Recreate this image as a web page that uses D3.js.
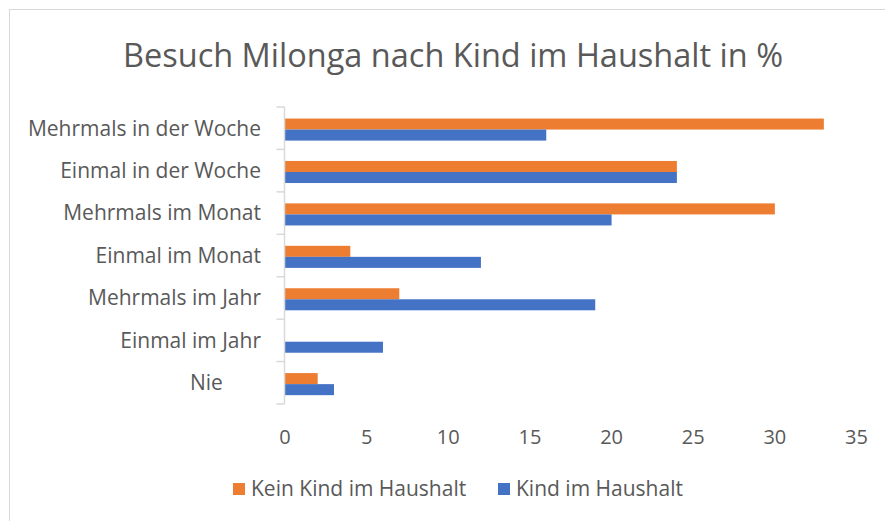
<!DOCTYPE html>
<html>
<head>
<meta charset="utf-8">
<script src="https://cdn.jsdelivr.net/npm/d3@7"></script>
<style>
  body { margin: 0; background: #fff; }
  text { font-family: "Open Sans", sans-serif; fill: #595959; white-space: pre; }
</style>
</head>
<body>
<svg id="chart" width="885" height="521"></svg>
<script>
// categories, top to bottom (the "Nie" label carries trailing spaces in the source)
var categories = ["Mehrmals in der Woche", "Einmal in der Woche", "Mehrmals im Monat",
    "Einmal im Monat", "Mehrmals im Jahr", "Einmal im Jahr", "Nie       "];
var seriesNames = ["Kein Kind im Haushalt", "Kind im Haushalt"];
var keinKind = [33, 24, 30, 4, 7, 0, 2];
var mitKind = [16, 24, 20, 12, 19, 6, 3];
var xTicks = [0, 5, 10, 15, 20, 25, 30, 35];
var colors = ["#ED7D31", "#4472C4"];

var svg = d3.select("#chart");

// chart frame
svg.append("rect")
    .attr("x", 9.5).attr("y", 9.5)
    .attr("width", 900).attr("height", 540)
    .attr("fill", "none")
    .attr("stroke", "#d9d9d9");

svg.append("text")
    .attr("x", 453).attr("y", 67)
    .attr("text-anchor", "middle")
    .style("font-size", "32.5px")
    .text("Besuch Milonga nach Kind im Haushalt in %");

var xScale = d3.scaleLinear().domain([0, 35]).range([285, 856.5]);
var yScale = d3.scaleBand().domain(categories).range([107, 404]);
var bw = yScale.bandwidth();
var yInner = d3.scaleBand().domain(seriesNames).range([bw * 0.26 + 0.5, bw * 0.78 + 0.5]);

var rows = categories.map(function(c, i) {
    return { cat: c, values: [keinKind[i], mitKind[i]] };
});

// bars
var groups = svg.append("g").selectAll("g")
    .data(rows)
    .enter().append("g")
    .attr("transform", function(d) { return "translate(0," + yScale(d.cat) + ")"; });

groups.selectAll("rect")
    .data(function(d) { return d.values.map(function(v, j) { return { name: seriesNames[j], v: v, j: j }; }); })
    .enter().append("rect")
    .attr("x", xScale(0))
    .attr("y", function(d) { return yInner(d.name); })
    .attr("height", yInner.bandwidth())
    .attr("width", function(d) { return xScale(d.v) - xScale(0); })
    .attr("fill", function(d) { return colors[d.j]; });

// y axis
var yAxis = svg.append("g")
    .attr("transform", "translate(" + (xScale(0) - 0.5) + ",0)");
yAxis.append("line")
    .attr("y1", 107).attr("y2", 404)
    .attr("stroke", "#d9d9d9").attr("stroke-width", 1.5);
var bounds = categories.map(function(c) { return yScale(c); }).concat([404]);
yAxis.selectAll(".tk")
    .data(bounds)
    .enter().append("line")
    .attr("x1", -8).attr("x2", 0)
    .attr("y1", function(d) { return d; }).attr("y2", function(d) { return d; })
    .attr("stroke", "#d9d9d9").attr("stroke-width", 1.5);

svg.append("g").selectAll("text")
    .data(categories)
    .enter().append("text")
    .attr("x", 261)
    .attr("y", function(d) { return yScale(d) + bw / 2; })
    .attr("dy", "0.35em")
    .attr("text-anchor", "end")
    .style("font-size", "21px")
    .text(function(d) { return d; });

// x tick labels (no axis line)
svg.append("g").selectAll("text")
    .data(xTicks)
    .enter().append("text")
    .attr("x", function(d) { return xScale(d); })
    .attr("y", 437)
    .attr("dy", "0.35em")
    .attr("text-anchor", "middle")
    .style("font-size", "20px")
    .text(function(d) { return d; });

// legend
var legendX = [233, 498];
var legend = svg.append("g").selectAll("g")
    .data(seriesNames)
    .enter().append("g")
    .attr("transform", function(d, i) { return "translate(" + legendX[i] + ",489)"; });
legend.append("rect")
    .attr("x", 0).attr("y", -6)
    .attr("width", 12).attr("height", 12)
    .attr("fill", function(d, i) { return colors[i]; });
legend.append("text")
    .attr("x", 18).attr("y", 0)
    .attr("dy", "0.35em")
    .style("font-size", "21px")
    .text(function(d) { return d; });
</script>
</body>
</html>
